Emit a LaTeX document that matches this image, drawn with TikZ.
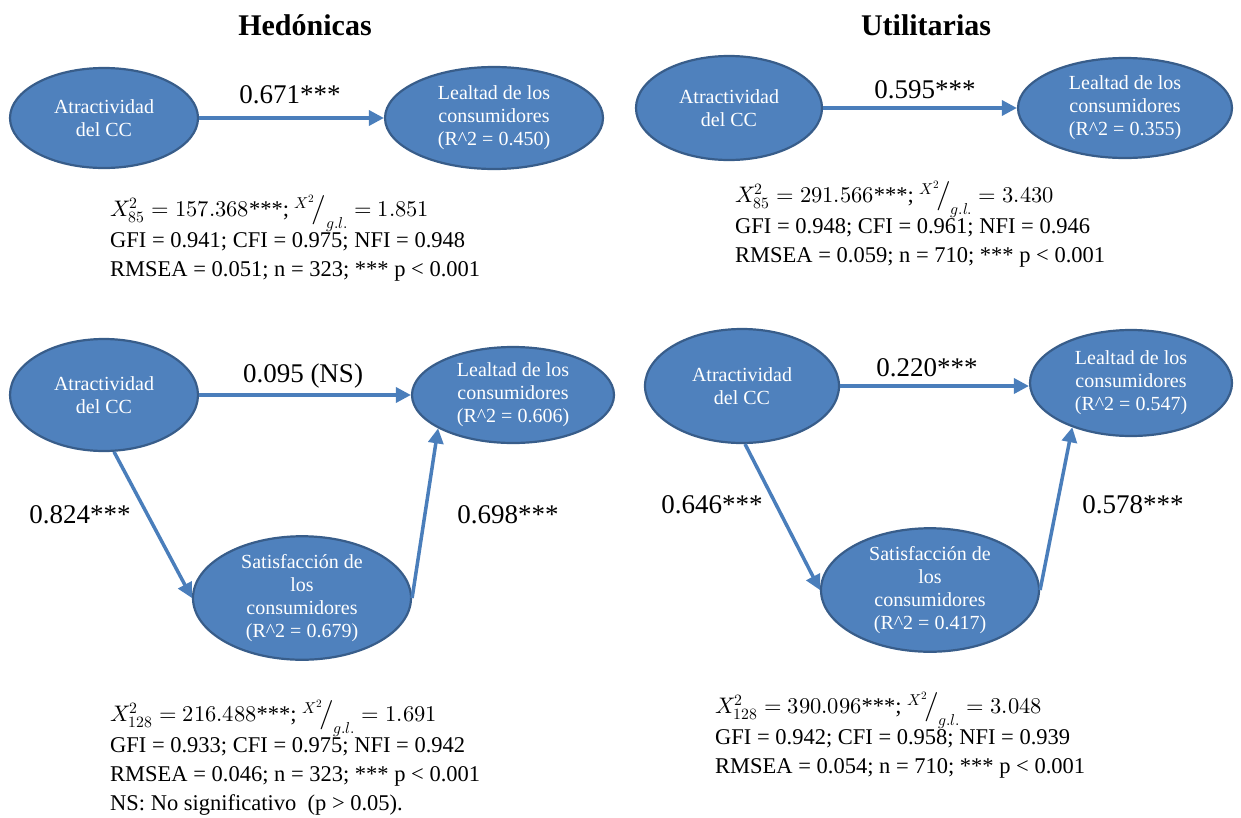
\documentclass[tikz,border=0pt]{standalone}
\usepackage{fontspec}
\usepackage{unicode-math}
\setmainfont{Liberation Serif}
\setmathfont{Latin Modern Math}
\usetikzlibrary{arrows.meta,positioning,shapes.geometric}
\definecolor{boxblue}{RGB}{79,129,189}
\definecolor{edgeblue}{RGB}{56,93,138}
\definecolor{pathblue}{RGB}{74,126,187}
\newcommand{\chiratio}{$^{X^{2}}\!\mathord{\raisebox{-1pt}{\scalebox{1.3}{$/$}}}_{g.l.}$}
\begin{document}
\begin{tikzpicture}[x=1pt,y=-1pt,>=Latex,
 latent/.style={ellipse,draw=edgeblue,line width=2.2pt,fill=boxblue,text=white,align=center,inner sep=0pt,
   font=\fontsize{20}{23}\selectfont},
 effect/.style={draw=pathblue,line width=3.5pt,-{Triangle[length=15pt,width=15pt]}},
 coef/.style={font=\fontsize{27}{30}\selectfont},
 fitbox/.style={align=left,anchor=north west,inner sep=0pt,font=\fontsize{22.5}{29}\selectfont},
 heading/.style={font=\fontsize{30}{34}\selectfont\bfseries}]
\useasboundingbox (0,0) rectangle (1241,817);
\node[heading] (h1) at (305,25) {Hedónicas};
\node[heading] (h2) at (926,25) {Utilitarias};
% hedonicas, modelo directo
\node[latent,minimum width=188pt,minimum height=100pt] (a1) at (104,118) {Atractividad\\del CC};
\node[latent,minimum width=218pt,minimum height=102pt] (l1) at (494,118) {Lealtad de los\\consumidores\\(R\^{}2 = 0.450)};
\draw[effect] (a1) -- (l1);
\node[coef] (c1) at (290,95) {0.671***};
\node[fitbox] (f1) at (110,195) {$X_{85}^{2} = 157.368$***; \chiratio$\;= 1.851$\\GFI = 0.941; CFI = 0.975; NFI = 0.948\\RMSEA = 0.051; n = 323; *** p {\textless} 0.001};
% utilitarias, modelo directo
\node[latent,minimum width=186pt,minimum height=104pt] (a2) at (729,108) {Atractividad\\del CC};
\node[latent,minimum width=214pt,minimum height=100pt] (l2) at (1125,108) {Lealtad de los\\consumidores\\(R\^{}2 = 0.355)};
\draw[effect] (a2) -- (l2);
\node[coef] (c2) at (925,90) {0.595***};
\node[fitbox] (f2) at (735,181) {$X_{85}^{2} = 291.566$***; \chiratio$\;= 3.430$\\GFI = 0.948; CFI = 0.961; NFI = 0.946\\RMSEA = 0.059; n = 710; *** p {\textless} 0.001};
% hedonicas, modelo mediado
\node[latent,minimum width=188pt,minimum height=112pt] (a3) at (104,395) {Atractividad\\del CC};
\node[latent,minimum width=202pt,minimum height=96pt] (l3) at (513,395) {Lealtad de los\\consumidores\\(R\^{}2 = 0.606)};
\node[latent,minimum width=218pt,minimum height=110pt] (s3) at (302,598) {Satisfacción de\\los\\consumidores\\(R\^{}2 = 0.679)};
\draw[effect] (a3) -- (l3);
\draw[effect] (a3.-80) -- (s3.west);
\draw[effect] (s3.east) -- (l3.204);
\node[coef] (c3) at (303,376) {0.095 (NS)};
\node[coef] (c4) at (80,515) {0.824***};
\node[coef] (c5) at (508,515) {0.698***};
\node[fitbox] (f3) at (110,700) {$X_{128}^{2} = 216.488$***; \chiratio$\;= 1.691$\\GFI = 0.933; CFI = 0.975; NFI = 0.942\\RMSEA = 0.046; n = 323; *** p {\textless} 0.001\\NS: No significativo\ \ (p {\textgreater} 0.05).};
% utilitarias, modelo mediado
\node[latent,minimum width=194pt,minimum height=114pt] (a4) at (742,386) {Atractividad\\del CC};
\node[latent,minimum width=202pt,minimum height=106pt] (l4) at (1131,383) {Lealtad de los\\consumidores\\(R\^{}2 = 0.547)};
\node[latent,minimum width=218pt,minimum height=112pt] (s4) at (930,590) {Satisfacción de\\los\\consumidores\\(R\^{}2 = 0.417)};
\draw[effect] (a4.east) -- (a4.east -| l4.west);
\draw[effect] (a4.-87) -- (s4.west);
\draw[effect] (s4.east) -- (l4.217);
\node[coef] (c6) at (927,368) {0.220***};
\node[coef] (c7) at (712,505) {0.646***};
\node[coef] (c8) at (1133,505) {0.578***};
\node[fitbox] (f4) at (715,692) {$X_{128}^{2} = 390.096$***; \chiratio$\;= 3.048$\\GFI = 0.942; CFI = 0.958; NFI = 0.939\\RMSEA = 0.054; n = 710; *** p {\textless} 0.001};
\end{tikzpicture}
\end{document}
